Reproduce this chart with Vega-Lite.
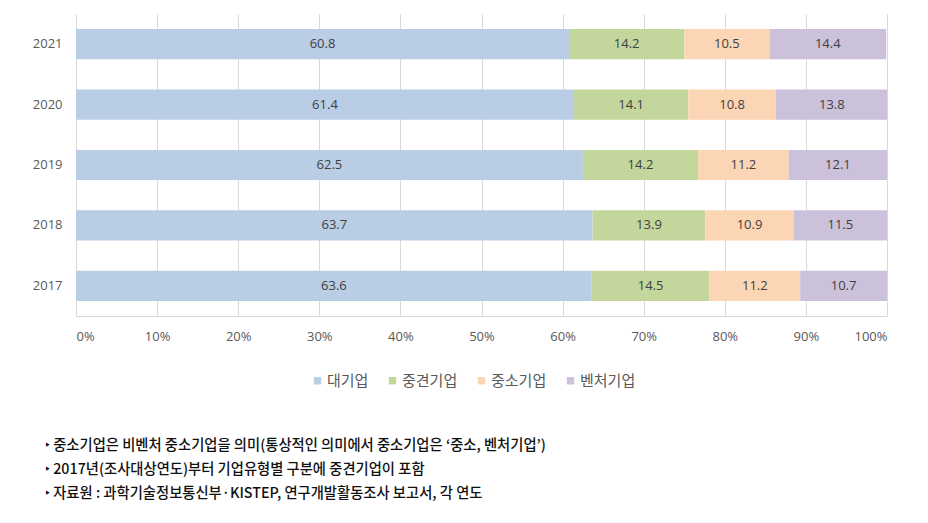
{
  "$schema": "https://vega.github.io/schema/vega-lite/v6.json",
  "width": 811,
  "height": 302,
  "autosize": {"type": "none"},
  "padding": {"left": 76, "top": 14, "right": 41, "bottom": 207},
  "background": "white",
  "config": {
    "font": "Noto Sans CJK KR",
    "view": {"stroke": null}
  },
  "title": {
    "text": ["‣ 중소기업은 비벤처 중소기업을 의미(통상적인 의미에서 중소기업은 ‘중소, 벤처기업’)", "‣ 2017년(조사대상연도)부터 기업유형별 구분에 중견기업이 포함", "‣ 자료원 : 과학기술정보통신부·KISTEP, 연구개발활동조사 보고서, 각 연도"],
    "orient": "bottom",
    "anchor": "start",
    "frame": "group",
    "dx": -31,
    "offset": 50,
    "fontSize": 14.3,
    "fontWeight": 500,
    "color": "#111111",
    "lineHeight": 24,
    "font": "Noto Sans CJK KR"
  },
  "data": {
    "values": [
      {"year": "2021", "type": "대기업", "value": 60.8},
      {"year": "2021", "type": "중견기업", "value": 14.2},
      {"year": "2021", "type": "중소기업", "value": 10.5},
      {"year": "2021", "type": "벤처기업", "value": 14.4},
      {"year": "2020", "type": "대기업", "value": 61.4},
      {"year": "2020", "type": "중견기업", "value": 14.1},
      {"year": "2020", "type": "중소기업", "value": 10.8},
      {"year": "2020", "type": "벤처기업", "value": 13.8},
      {"year": "2019", "type": "대기업", "value": 62.5},
      {"year": "2019", "type": "중견기업", "value": 14.2},
      {"year": "2019", "type": "중소기업", "value": 11.2},
      {"year": "2019", "type": "벤처기업", "value": 12.1},
      {"year": "2018", "type": "대기업", "value": 63.7},
      {"year": "2018", "type": "중견기업", "value": 13.9},
      {"year": "2018", "type": "중소기업", "value": 10.9},
      {"year": "2018", "type": "벤처기업", "value": 11.5},
      {"year": "2017", "type": "대기업", "value": 63.6},
      {"year": "2017", "type": "중견기업", "value": 14.5},
      {"year": "2017", "type": "중소기업", "value": 11.2},
      {"year": "2017", "type": "벤처기업", "value": 10.7}
    ]
  },
  "transform": [
    {"calculate": "indexof(['대기업','중견기업','중소기업','벤처기업'], datum.type)", "as": "ord"}
  ],
  "encoding": {
    "y": {
      "field": "year",
      "type": "nominal",
      "sort": ["2021", "2020", "2019", "2018", "2017"],
      "scale": {"paddingInner": 0.5, "paddingOuter": 0.25},
      "axis": {
        "title": null,
        "domain": false,
        "ticks": false,
        "labelFontSize": 13,
        "labelColor": "#595959",
        "labelPadding": 14,
        "labelFont": "Open Sans"
      }
    }
  },
  "layer": [
    {
      "mark": {"type": "bar", "clip": true},
      "encoding": {
        "x": {
          "field": "value",
          "type": "quantitative",
          "stack": "zero",
          "scale": {"domain": [0, 100], "nice": false},
          "axis": {
            "title": null,
            "values": [0, 10, 20, 30, 40, 50, 60, 70, 80, 90, 100],
            "labelExpr": "datum.value + '%'",
            "grid": true,
            "gridColor": "#d9d9d9",
            "domainColor": "#d9d9d9",
            "ticks": false,
            "labelFontSize": 13,
            "labelColor": "#595959",
            "labelPadding": 14,
            "labelFont": "Open Sans"
          }
        },
        "color": {
          "field": "type",
          "type": "nominal",
          "scale": {
            "domain": ["대기업", "중견기업", "중소기업", "벤처기업"],
            "range": ["#b9cde5", "#c3d69b", "#fcd5b5", "#ccc1da"]
          },
          "legend": {
            "title": null,
            "orient": "none",
            "direction": "horizontal",
            "legendX": 234,
            "legendY": 359,
            "symbolType": "square",
            "symbolSize": 55,
            "symbolStrokeWidth": 0,
            "labelFontSize": 15,
            "labelColor": "#595959",
            "columnPadding": 16,
            "labelOffset": 2
          }
        },
        "order": {"field": "ord", "type": "quantitative"}
      }
    },
    {
      "mark": {"type": "text", "fontSize": 13, "color": "#404040", "font": "Open Sans"},
      "encoding": {
        "x": {"field": "value", "type": "quantitative", "stack": "zero", "bandPosition": 0.5},
        "text": {"field": "value", "type": "quantitative", "format": ".1f"},
        "detail": {"field": "type"},
        "order": {"field": "ord", "type": "quantitative"}
      }
    }
  ]
}
